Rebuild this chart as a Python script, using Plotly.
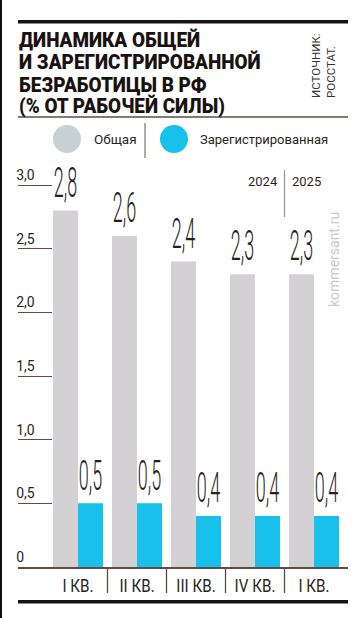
import plotly.graph_objects as go

# ---- data ----
categories = ["I КВ.", "II КВ.", "III КВ.", "IV КВ.", "I КВ."]
total = [2.8, 2.6, 2.4, 2.3, 2.3]
registered = [0.5, 0.5, 0.4, 0.4, 0.4]
y_tickvals = [0, 0.5, 1.0, 1.5, 2.0, 2.5, 3.0]
y_ticktext = ["0", "0,5", "1,0", "1,5", "2,0", "2,5", "3,0"]
years = ["2024", "2025"]
title_lines = ["ДИНАМИКА ОБЩЕЙ", "И ЗАРЕГИСТРИРОВАННОЙ", "БЕЗРАБОТИЦЫ В РФ", "(% ОТ РАБОЧЕЙ СИЛЫ)"]
legend_names = ["Общая", "Зарегистрированная"]
source_text = "ИСТОЧНИК:<br>РОССТАТ."
watermark = "kommersant.ru"

# ---- styling ----
W, H = 363, 618
def px(x):
    return x / W
def py(y):
    return 1 - y / H

FONT = "Roboto, Liberation Sans, sans-serif"
TXT = "#2a1f1a"
DARK = "#1a1210"
LINE = "#5e4c42"
GRAY = "#d3d1d3"
GRAY_LEG = "#c7d0d5"
BLUE = "#17c1ec"

x_idx = list(range(len(categories)))

fig = go.Figure()
for vals, name, col in [(total, legend_names[0], GRAY), (registered, legend_names[1], BLUE)]:
    fig.add_bar(x=x_idx, y=vals, name=name, marker_color=col, marker_line_width=0,
                texttemplate="%{y:.1f}", textposition="outside", constraintext="none",
                textfont=dict(family=FONT, size=24, color=TXT, weight=300), cliponaxis=False)

scale = 59.0  # px per category
r0 = -(78 - 18) / scale
r1 = r0 + (348 - 18) / scale
ymax = 3.3
ypx = (567 - 185) / 3.0

fig.update_layout(
    width=W, height=H, autosize=False,
    margin=dict(l=0, r=0, t=0, b=0),
    paper_bgcolor="white", plot_bgcolor="white",
    showlegend=False, barmode="group", bargap=0.153, bargroupgap=0,
    separators=", ",
    xaxis=dict(domain=[px(18), px(348)], range=[r0, r1], showline=True, linecolor=LINE, linewidth=2,
               tickvals=x_idx, ticktext=categories, ticks="", showgrid=False, zeroline=False,
               tickfont=dict(family=FONT, size=16, color=TXT), ticklabelstandoff=3),
    yaxis=dict(domain=[py(567), py(567 - ymax * ypx)], range=[0, ymax], anchor="x",
               tickvals=y_tickvals, ticktext=y_ticktext, ticks="inside", ticklen=34, tickwidth=1.3,
               tickcolor=LINE, ticklabelposition="inside", ticklabelshift=-10, ticklabelstandoff=-36,
               tickfont=dict(family=FONT, size=14, color=TXT),
               showgrid=False, zeroline=False, showline=False),
)

shapes = []
shapes.append(dict(type="rect", xref="paper", yref="paper", x0=0, x1=px(2), y0=0, y1=1,
                   fillcolor="#111111", line=dict(width=0), layer="above"))
for y0, y1, col in [(20, 23.5, DARK), (116.3, 117.8, LINE), (600, 603.5, DARK)]:
    shapes.append(dict(type="rect", xref="paper", yref="paper", x0=px(18), x1=px(348), y0=py(y1), y1=py(y0),
                       fillcolor=col, line=dict(width=0), layer="above"))
shapes.append(dict(type="circle", xref="paper", yref="paper", x0=px(53), x1=px(81), y0=py(153), y1=py(125),
                   fillcolor=GRAY_LEG, line=dict(width=0)))
shapes.append(dict(type="circle", xref="paper", yref="paper", x0=px(160), x1=px(188), y0=py(153), y1=py(125),
                   fillcolor=BLUE, line=dict(width=0)))
shapes.append(dict(type="line", xref="paper", yref="paper", x0=px(145), x1=px(145), y0=py(158), y1=py(123),
                   line=dict(color="#8a7d74", width=1.3)))
for b in [i + 0.5 for i in x_idx[:-1]]:
    shapes.append(dict(type="line", xref="x", yref="paper", x0=b, x1=b, y0=py(593), y1=py(567),
                       line=dict(color=LINE, width=1.3)))
shapes.append(dict(type="line", xref="x", yref="paper", x0=3.5, x1=3.5, y0=py(217), y1=py(170),
                   line=dict(color="#a09890", width=1.3)))
fig.update_layout(shapes=shapes)

ann = []
title_centers = [40, 62.5, 84.5, 105.5]
for t, yc in zip(title_lines, title_centers):
    ann.append(dict(text=t, xref="paper", yref="paper", x=px(17), y=py(yc), xanchor="left", yanchor="middle",
                    showarrow=False, font=dict(family=FONT, size=21, color=DARK, weight=900)))
ann.append(dict(text=source_text, xref="paper", yref="paper", x=px(324), y=py(66), xanchor="center",
                yanchor="middle", textangle=-90, align="left", showarrow=False,
                font=dict(family=FONT, size=11.5, color="#3a3030")))
ann.append(dict(text=legend_names[0], xref="paper", yref="paper", x=px(92), y=py(139), xanchor="left",
                yanchor="middle", showarrow=False, font=dict(family=FONT, size=13.5, color=TXT)))
ann.append(dict(text=legend_names[1], xref="paper", yref="paper", x=px(198), y=py(139), xanchor="left",
                yanchor="middle", showarrow=False, font=dict(family=FONT, size=13, color=TXT)))
ann.append(dict(text=years[0], xref="x", yref="paper", x=3.5, xshift=-5, y=py(181), xanchor="right",
                yanchor="middle", showarrow=False, font=dict(family=FONT, size=13, color=TXT)))
ann.append(dict(text=years[1], xref="x", yref="paper", x=3.5, xshift=5, y=py(181), xanchor="left",
                yanchor="middle", showarrow=False, font=dict(family=FONT, size=13, color=TXT)))
ann.append(dict(text=watermark, xref="paper", yref="paper", x=px(334), y=py(260), xanchor="center",
                yanchor="middle", textangle=-90, showarrow=False,
                font=dict(family=FONT, size=14, color="#c9c9c9")))
fig.update_layout(annotations=ann)

# page tweaks: no body margin; emulate the condensed typeface of the original
post = """
document.body.style.margin = '0';
var gd = document.getElementById('{plot_id}');
function squeeze(el, sx, sy, ax, ay) {
  var g = document.createElementNS('http://www.w3.org/2000/svg', 'g');
  el.parentNode.insertBefore(g, el);
  g.appendChild(el);
  var b = g.getBBox();
  var cx = ax === 'l' ? b.x : b.x + b.width / 2;
  var cy = ay === 'b' ? b.y + b.height : b.y + b.height / 2;
  g.setAttribute('transform', 'translate(' + cx + ',' + cy + ') scale(' + sx + ',' + sy + ') translate(' + (-cx) + ',' + (-cy) + ')');
}
gd.querySelectorAll('text.bartext').forEach(function (t) { squeeze(t, 0.75, 1.8, 'c', 'b'); });
gd.querySelectorAll('g.xtick text').forEach(function (t) { squeeze(t, 0.95, 1.15, 'c', 'm'); });
[0, 1, 2, 3].forEach(function (i) {
  var t = gd.querySelector('g.annotation[data-index="' + i + '"] text');
  if (t) { squeeze(t, 0.9, 1.0, 'l', 'm'); }
});
"""
fig.write_html("out.html", post_script=post, config={"displayModeBar": False})
